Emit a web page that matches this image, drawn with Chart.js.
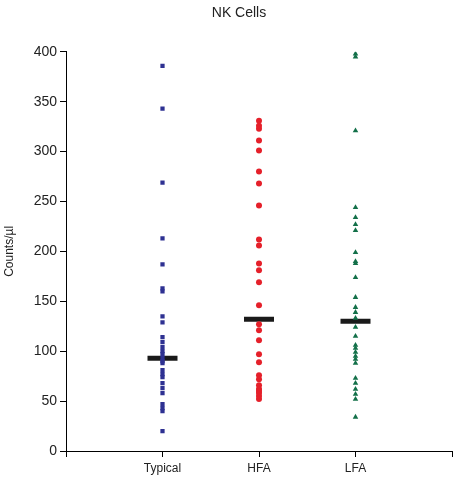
<!DOCTYPE html>
<html>
<head>
<meta charset="utf-8">
<script src="https://cdn.jsdelivr.net/npm/chart.js@4"></script>
<style>
  html, body { margin: 0; padding: 0; background: #fff; }
  #wrap { width: 472px; height: 493px; }
</style>
</head>
<body>
<div id="wrap"><canvas id="chart"></canvas></div>
<script>
    // Categories and values (counts/µl)
    const categories = ['Typical', 'HFA', 'LFA'];
    const typicalValues = [386, 343, 269, 213, 187, 163, 160, 135, 129, 114, 109, 104, 100, 97, 93, 90, 88, 81, 77, 74, 68, 63, 58, 47, 43, 40, 20];
    const hfaValues = [331, 326, 323, 311, 301, 280, 268, 246, 212, 206, 188, 181, 169, 146, 127, 121, 111, 97, 89, 76, 72, 66, 62, 60, 58, 55, 52];
    const lfaValues = [398, 395, 321, 244, 234, 227, 221, 199, 190, 188, 174, 154, 144, 139, 133, 124, 115, 106, 103, 99, 95, 92, 88, 73, 68, 62, 57, 52, 34];
    const medians = [93, 132, 130];
    const yTicks = [0, 50, 100, 150, 200, 250, 300, 350, 400];

    const font = 'Liberation Sans, Arial, sans-serif';

    function toPoints(values, xIndex) {
        return values.map(v => ({ x: xIndex + 1, y: v }));
    }

    new Chart(document.getElementById('chart'), {
        type: 'scatter',
        data: {
            datasets: [
                {
                    data: toPoints(typicalValues, 0),
                    pointStyle: 'rect', pointRadius: 3,
                    backgroundColor: '#2e3192', borderWidth: 0
                },
                {
                    data: toPoints(hfaValues, 1),
                    pointStyle: 'circle', pointRadius: 3,
                    backgroundColor: '#e5202a', borderWidth: 0
                },
                {
                    data: toPoints(lfaValues, 2),
                    pointStyle: 'triangle', pointRadius: 3.2,
                    backgroundColor: '#137049', borderWidth: 0
                },
                {
                    data: medians.map((m, i) => ({ x: i + 1, y: m })),
                    pointStyle: 'line', pointRadius: 15,
                    borderColor: '#1a1a1a', borderWidth: 5
                }
            ]
        },
        options: {
            responsive: true,
            maintainAspectRatio: false,
            animation: false,
            layout: { padding: { right: -6, top: 0 } },
            plugins: {
                legend: { display: false },
                tooltip: { enabled: false },
                title: {
                    display: true,
                    text: 'NK Cells',
                    color: '#222',
                    font: { family: font, size: 14, weight: 'normal' },
                    padding: { top: 5, bottom: 30 }
                }
            },
            scales: {
                x: {
                    type: 'linear', min: 0, max: 4,
                    grid: { display: true, drawOnChartArea: false, drawTicks: true, tickLength: 6, color: '#000' },
                    border: { color: '#000', width: 1 },
                    afterBuildTicks: axis => { axis.ticks = [0, 1, 2, 3, 4].map(v => ({ value: v })); },
                    ticks: {
                        color: '#222', font: { family: font, size: 12 }, padding: 4,
                        callback: v => categories[v - 1] || ''
                    },
                    afterFit: axis => { axis.height = 42; }
                },
                y: {
                    min: 0, max: 400,
                    grid: { display: true, drawOnChartArea: false, drawTicks: true, tickLength: 6, color: '#000' },
                    border: { color: '#000', width: 1 },
                    afterBuildTicks: axis => { axis.ticks = yTicks.map(v => ({ value: v })); },
                    ticks: { color: '#222', font: { family: font, size: 14 }, padding: 3 },
                    title: {
                        display: true, text: 'Counts/µl', color: '#222',
                        font: { family: font, size: 12 }, padding: 2
                    },
                    afterFit: axis => { axis.width = 66; }
                }
            }
        }
    });
</script>
</body>
</html>
